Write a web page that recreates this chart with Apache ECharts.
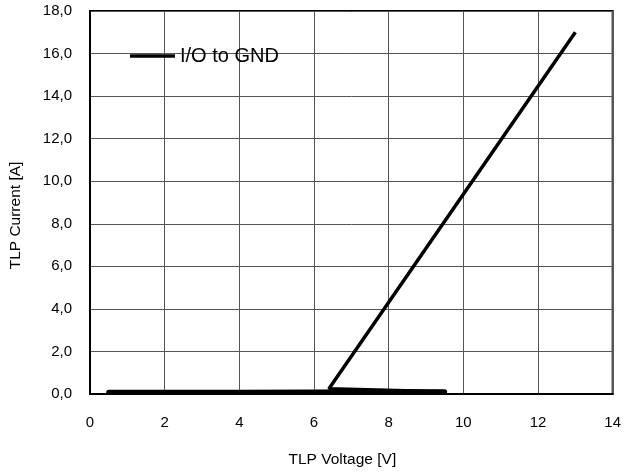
<!DOCTYPE html>
<html>
<head>
<meta charset="utf-8">
<script src="https://cdn.jsdelivr.net/npm/echarts@6/dist/echarts.min.js"></script>
<style>
html, body { margin: 0; padding: 0; background: #fff; }
#chart { width: 624px; height: 473px; }
</style>
</head>
<body>
<div id="chart"></div>
<script>
// TLP I-V curve
var seriesName = 'I/O to GND';
// pulses before snapback (low current, voltage rising)
var preVoltage = [0.5, 2, 4, 6, 8, 9.5];
var preCurrent = [0.08, 0.08, 0.08, 0.09, 0.1, 0.1];
// after snapback
var postVoltage = [6.4, 13];
var postCurrent = [0.25, 17];

var yMin = 0, yMax = 18, yStep = 2;
var xMin = 0, xMax = 14, xStep = 2;

function pairs(xs, ys) {
	var out = [];
	for(var i = 0; i < xs.length; i++) {
		out.push([xs[i], ys[i]]);
	}
	return out;
}

var fullData = pairs(preVoltage.concat(postVoltage), preCurrent.concat(postCurrent));
var preData = pairs(preVoltage, preCurrent);

var mychart = echarts.init(document.getElementById('chart'));
var font = 'Arial, "Liberation Sans", sans-serif';
var option = {
	animation: false,
	grid: {
		left: 88,
		right: 9,
		top: 11,
		bottom: 72,
		show: true,
		borderColor: '#000',
		borderWidth: 2
	},
	legend: {
		data: [{ name: seriesName, icon: 'rect' }],
		left: 125,
		top: 41,
		itemWidth: 45,
		itemHeight: 3.5,
		itemStyle: { color: '#000' },
		textStyle: {
			fontFamily: font,
			fontSize: 20,
			color: '#000'
		}
	},
	xAxis: {
		type: 'value',
		min: xMin,
		max: xMax,
		interval: xStep,
		name: 'TLP Voltage [V]',
		nameLocation: 'middle',
		nameGap: 58,
		nameTextStyle: {
			fontFamily: font,
			fontSize: 15.5,
			color: '#000',
			padding: [0, 18, 0, 0]
		},
		axisLine: { lineStyle: { color: '#000', width: 2 } },
		axisTick: { show: false },
		axisLabel: {
			margin: 21,
			fontFamily: font,
			fontSize: 15,
			color: '#000'
		},
		splitLine: { lineStyle: { color: '#555', width: 1 } }
	},
	yAxis: {
		type: 'value',
		min: yMin,
		max: yMax,
		interval: yStep,
		name: 'TLP Current [A]',
		nameLocation: 'middle',
		nameGap: 66,
		nameTextStyle: {
			fontFamily: font,
			fontSize: 15.5,
			color: '#000',
			padding: [0, 26, 0, 0]
		},
		axisLine: { lineStyle: { color: '#000', width: 2 } },
		axisTick: { show: false },
		axisLabel: {
			margin: 18,
			fontFamily: font,
			fontSize: 15,
			color: '#000',
			formatter: function(v) {
				return v.toFixed(1).replace('.', ',');
			}
		},
		splitLine: { lineStyle: { color: '#555', width: 1 } }
	},
	series: [{
		name: seriesName,
		type: 'line',
		data: fullData,
		symbol: 'none',
		lineStyle: { color: '#000', width: 3.5 },
		itemStyle: { color: '#000' }
	}, {
		type: 'line',
		data: preData,
		symbol: 'none',
		lineStyle: { color: '#000', width: 5, cap: 'round' },
		itemStyle: { color: '#000' }
	}]
};
mychart.setOption(option);
</script>
</body>
</html>
